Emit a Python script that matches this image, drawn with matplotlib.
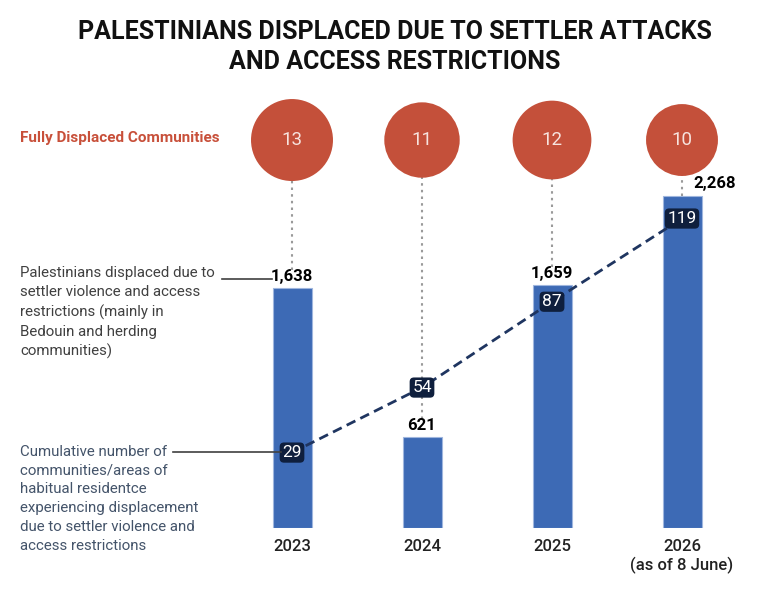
import numpy as np
import matplotlib
matplotlib.use('Agg')
import matplotlib.pyplot as plt
from matplotlib.lines import Line2D

years = ['2023', '2024', '2025', '2026\n(as of 8 June)']
displaced = [1638, 621, 1659, 2268]
displaced_labels = ['1,638', '621', '1,659', '2,268']
communities = [29, 54, 87, 119]
fully_displaced = [13, 11, 12, 10]

BAR = '#3D6AB5'
RED = '#C4503A'
NAVY = '#0F1F3D'
DASH = '#1F3560'

plt.rcParams['font.family'] = ['Roboto', 'DejaVu Sans']

W, H = 767, 594
def fx(px):
    return px / W
def fy(py):
    return 1 - py / H

fig = plt.figure(figsize=(W / 100, H / 100), dpi=100)

# main axes: bars (left scale) + line (twin scale), both starting at 0
ax = fig.add_axes([fx(227), fy(528), 520 / W, (528 - 95) / H])
ax.set_xlim(-0.5, 3.5)
ax.set_ylim(0, 2956)
ax2 = ax.twinx()
ax2.set_ylim(0, 166.5)
for a in (ax, ax2):
    for s in a.spines.values():
        s.set_visible(False)
    a.set_yticks([])

x = np.arange(len(years))

ax.bar(x, displaced, width=0.3, color=BAR, edgecolor='#9fb6de', linewidth=0.8, zorder=2)

# dotted guides from circles down to the value labels
ymax = 0.87 * ax.get_ylim()[1]
for i, v in enumerate(displaced):
    ymin = v if i == len(displaced) - 1 else v + 120
    ax.vlines(x[i], ymin, ymax, colors='#9a9a9a', linestyles=(0, (1.2, 2)), linewidth=1.5, zorder=1)

# bar value labels
for i, (v, lab) in enumerate(zip(displaced, displaced_labels)):
    xo = 0.25 if i == len(displaced) - 1 else 0
    ax.text(x[i] + xo, v + 30, lab, ha='center', va='bottom', fontsize=12,
            fontweight='bold', color='black', zorder=4)

# circles for fully displaced communities
ax.scatter(x, [0.896] * len(x), s=np.array(fully_displaced) * 268, color=RED,
           transform=ax.get_xaxis_transform(), clip_on=False, zorder=3, linewidths=0)
for i, n in enumerate(fully_displaced):
    ax.text(x[i], 0.896, str(n), transform=ax.get_xaxis_transform(), ha='center',
            va='center', fontsize=13.5, color='#f7e3de', zorder=4)

# cumulative communities line
ax2.plot(x, communities, color=DASH, linewidth=2, linestyle=(0, (3.5, 2)), zorder=5)
for i, c in enumerate(communities):
    ax2.text(x[i], c, str(c), ha='center', va='center', fontsize=12.5, color='white', zorder=6,
             bbox=dict(boxstyle='round,pad=0.15,rounding_size=0.25', fc=NAVY, ec='none'))

ax.set_xticks(x, years)
ax.tick_params(axis='x', length=0, pad=8, labelsize=12, labelcolor='#222222')
for t in ax.get_xticklabels():
    t.set_fontweight('medium')

# title
fig.text(0.515, fy(47), 'PALESTINIANS DISPLACED DUE TO SETTLER ATTACKS\nAND ACCESS RESTRICTIONS',
         ha='center', va='center', fontsize=18, fontweight='bold', color='#111111', linespacing=1.3)

# left-hand annotations
fig.text(fx(20), fy(138), 'Fully Displaced Communities', ha='left', va='center',
         fontsize=11, fontweight='bold', color='#C8503A')
fig.text(fx(20), fy(266), 'Palestinians displaced due to\nsettler violence and access\n'
         'restrictions (mainly in\nBedouin and herding\ncommunities)',
         ha='left', va='top', fontsize=10.8, color='#404040', linespacing=1.45)
fig.text(fx(20), fy(445), 'Cumulative number of\ncommunities/areas of\nhabitual residentce\n'
         'experiencing displacement\ndue to settler violence and\naccess restrictions',
         ha='left', va='top', fontsize=10.8, color='#44546A', linespacing=1.43)

fig.add_artist(Line2D([fx(222), fx(272)], [fy(279), fy(279)], color='#404040', linewidth=1.2))
fig.add_artist(Line2D([fx(173), fx(281)], [fy(452), fy(452)], color='#404040', linewidth=1.2))

fig.savefig('out.png', dpi=100)
